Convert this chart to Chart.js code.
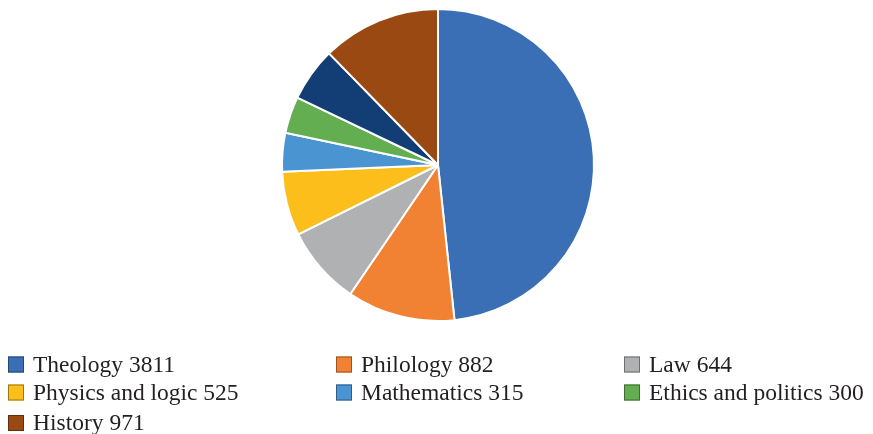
<!DOCTYPE html>
<html>
<head>
<meta charset="utf-8">
<script src="https://cdn.jsdelivr.net/npm/chart.js@4/dist/chart.umd.min.js"></script>
<style>
  html, body { margin: 0; padding: 0; background: #fff; }
  #wrap { position: relative; width: 873px; height: 434px; }
</style>
</head>
<body>
<div id="wrap"><canvas id="c"></canvas></div>
<script>
const categories = ["Theology", "Philology", "Law", "Physics and logic", "Mathematics", "Ethics and politics", "", "History"];
const values = [3811, 882, 644, 525, 315, 300, 440, 971];
const colors = ["#3a6fb6", "#f28233", "#b0b1b3", "#fbbe1a", "#4a95d1", "#63ae51", "#133e75", "#9b4912"];
const borders = ["#24467a", "#9c5421", "#6e6f71", "#9d7810", "#2f5f86", "#3e6e33", "#0c2749", "#622e0b"];

const gridLegend = {
  id: "gridLegend",
  afterDraw(chart, args, opts) {
    const ctx = chart.ctx;
    const labels = chart.data.labels;
    const data = chart.data.datasets[0].data;
    let k = 0;
    ctx.save();
    ctx.font = opts.font;
    ctx.textBaseline = "middle";
    ctx.textAlign = "left";
    labels.forEach((lab, i) => {
      if (!lab) return;
      const col = k % opts.cols.length;
      const row = Math.floor(k / opts.cols.length);
      const x = opts.cols[col];
      const y = opts.rows[row];
      const s = opts.box;
      ctx.fillStyle = colors[i];
      ctx.fillRect(x, y - s / 2, s, s);
      ctx.strokeStyle = borders[i];
      ctx.lineWidth = 1;
      ctx.strokeRect(x + 0.5, y - s / 2 + 0.5, s - 1, s - 1);
      ctx.fillStyle = opts.color;
      ctx.fillText(lab + " " + data[i], x + opts.textGap, y + 1);
      k++;
    });
    ctx.restore();
  }
};

const chart = new Chart(document.getElementById("c"), {
  type: "pie",
  data: {
    labels: categories,
    datasets: [{
      data: values,
      backgroundColor: colors,
      borderColor: "#ffffff",
      borderWidth: 2
    }]
  },
  options: {
    responsive: true,
    maintainAspectRatio: false,
    animation: false,
    layout: { padding: { top: 8, bottom: 112, left: 3, right: 0 } },
    plugins: {
      legend: { display: false },
      tooltip: { enabled: false },
      gridLegend: {
        cols: [8, 336, 624],
        rows: [364.5, 392.5, 423],
        box: 16,
        textGap: 25,
        font: "23.5px 'Liberation Serif'",
        color: "#231f20"
      }
    }
  },
  plugins: [gridLegend]
});
</script>
</body>
</html>
